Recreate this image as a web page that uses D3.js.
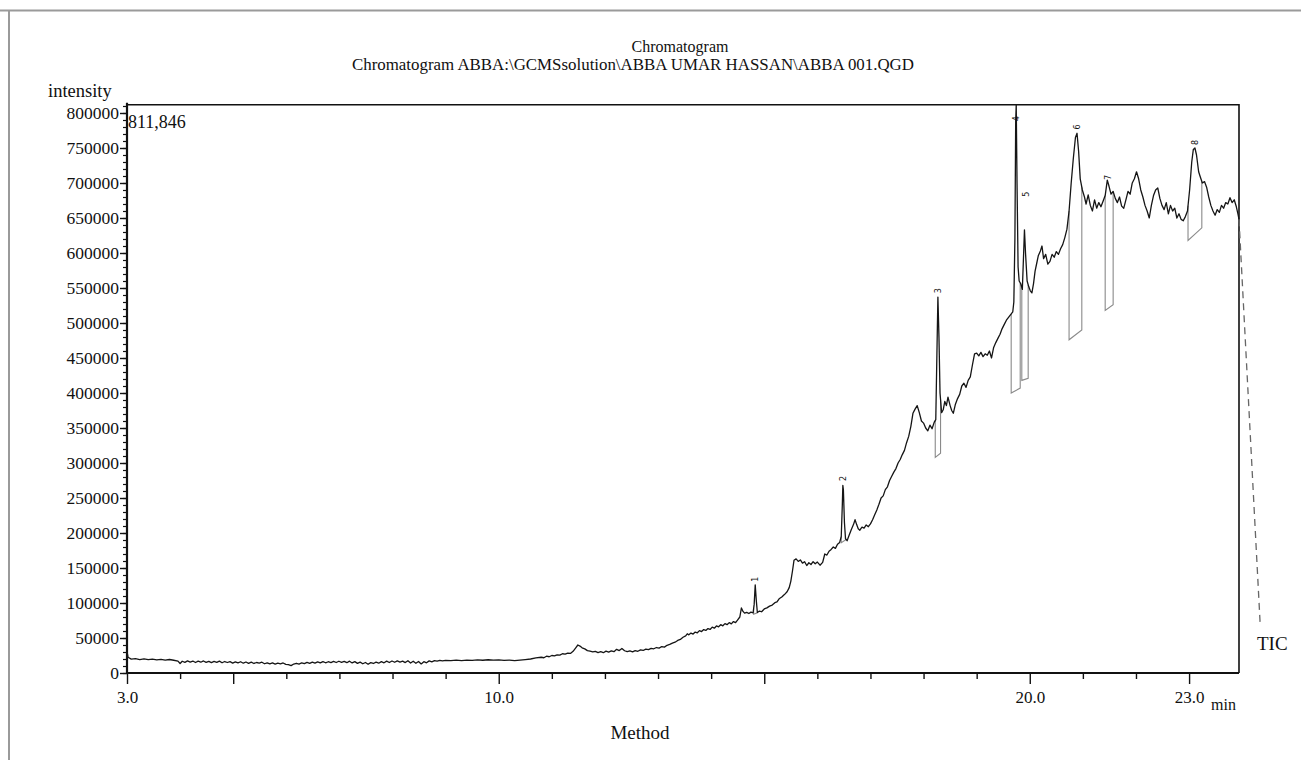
<!DOCTYPE html>
<html>
<head>
<meta charset="utf-8">
<script src="https://cdn.jsdelivr.net/npm/d3@7"></script>
<style>
  body { margin: 0; background: #fff; }
  svg { display: block; }
  text { font-family: "Liberation Serif", "Times New Roman", serif; fill: #111; }
</style>
</head>
<body>
<svg id="chart" width="1301" height="760"></svg>
<script>

/// ---- data (time in min, intensity in counts) ----
var tracePart1 = [
 [3.00,31000],[3.02,22500],[3.08,19800],[3.16,20400],[3.24,19200],[3.32,20100],[3.40,19000],[3.48,19700],
 [3.56,18800],[3.64,19600],[3.72,18400],[3.80,19300],[3.88,18200],[3.96,17000],[4.00,13500],[4.04,16800],
 [4.09,15200],[4.14,17300],[4.19,15600],[4.24,17100],[4.29,15000],[4.34,16900],[4.39,15400],[4.44,17200],
 [4.49,15100],[4.54,16700],[4.59,14800],[4.64,16500],[4.69,15200],[4.74,17000],[4.79,14600],[4.84,16400],
 [4.89,15000],[4.94,16200],[4.99,14200],[5.04,15900],[5.09,14400],[5.14,16100],[5.19,14000],[5.24,15700],
 [5.29,13800],[5.34,15500],[5.39,13600],[5.44,15000],[5.49,14100],[5.54,15400],[5.59,13200],[5.64,14600],
 [5.69,13000],[5.74,14400],[5.79,12600],[5.84,14000],[5.89,13100],[5.94,14300],[5.99,12400],[6.04,12000],
 [6.09,10500],[6.14,12800],[6.19,13900],[6.24,12700],[6.29,14600],[6.34,13300],[6.39,15200],[6.44,13800],
 [6.49,15600],[6.54,14100],[6.59,16000],[6.64,14400],[6.69,16300],[6.74,14600],[6.79,16100],[6.84,14900],
 [6.89,16600],[6.94,15000],[6.99,16800],[7.04,15200],[7.09,16500],[7.14,14700],[7.19,16900],[7.24,14400],
 [7.29,16200],[7.34,13800],[7.39,15600],[7.44,13200],[7.49,15000],[7.54,12500],[7.59,14800],[7.64,13600],
 [7.69,15500],[7.74,14000],[7.79,16200],[7.84,14600],[7.89,16900],[7.94,15000],[7.99,17200],[8.04,15300],
 [8.09,17400],[8.14,15600],[8.19,17000],[8.24,14900],[8.29,17600],[8.34,14200],[8.39,16800],[8.44,13900],
 [8.49,16500],[8.54,13000],[8.59,16200],[8.64,14600],[8.69,17300],[8.74,15800],[8.79,17600],[8.84,16900],
 [8.89,18000],[8.94,17200],[9.00,18100],[9.10,17600],[9.20,18300],[9.30,17800],[9.40,18500],[9.50,18000],
 [9.60,18700],[9.70,18200],[9.80,18900],[9.90,18400],[10.00,18700],[10.10,17900],[10.20,18400],[10.30,17600],
 [10.40,18500],[10.50,19200],[10.60,20000],[10.70,21500],[10.80,22500],[10.85,21800],[10.90,24000],[10.95,23200]
];

var tracePart2 = [
 [11.00,25000],[11.05,24400],[11.10,26000],[11.15,25500],[11.20,27500],[11.25,27000],[11.30,28500],[11.35,28000],
 [11.40,31000],[11.45,36000],[11.49,40000],[11.53,38500],[11.57,36000],[11.62,34500],[11.67,32000],[11.72,31200],
 [11.77,30200],[11.82,31000],[11.87,29200],[11.92,30400],[11.97,29000],[12.02,31200],[12.07,29800],[12.12,31600],
 [12.17,30400],[12.22,33800],[12.27,32000],[12.32,35000],[12.37,31800],[12.42,30500],[12.47,31500],[12.52,30200],
 [12.57,32000],[12.62,31000],[12.67,33000],[12.72,32200],[12.77,34200],[12.82,33400],[12.87,35200],[12.92,34600],
 [12.97,36400],[13.02,35600],[13.07,37800],[13.12,37000],[13.17,39600],[13.22,40800],[13.27,42600],[13.32,44000],
 [13.37,46500],[13.42,48000],[13.47,51000],[13.52,53000],[13.55,56000],[13.58,54500],[13.62,57000],[13.66,55600],
 [13.70,58500],[13.74,57400],[13.78,60500],[13.82,59200],[13.86,62000],[13.90,60800],[13.94,63500],[13.98,62200],
 [14.02,65500],[14.06,64000],[14.10,67200],[14.14,66000],[14.18,69000],[14.22,67400],[14.26,70500],[14.30,69000],
 [14.34,72000],[14.38,70200],[14.42,73500],[14.46,72000],[14.50,76000],[14.54,80000],[14.57,93000],[14.60,88000],
 [14.63,85500],[14.67,86500],[14.71,85000],[14.75,87000],[14.79,86000],[14.81,98000],[14.83,126000],[14.85,104000],
 [14.87,86500],[14.91,88500],[14.95,87500],[15.00,91500],[15.05,93000],[15.10,95500],[15.15,97000],[15.20,100500],
 [15.24,101500],[15.28,106000],[15.33,108500],[15.38,112000],[15.43,116000],[15.47,122000],[15.50,131000],[15.53,145000],
 [15.56,161000],[15.60,163000],[15.64,159500],[15.68,161500],[15.72,157000],[15.76,159000],[15.80,153500],[15.84,157500],
 [15.88,155000],[15.92,159000],[15.96,156000],[16.00,158500],[16.05,154000],[16.10,158000],[16.14,170000],[16.18,168500],
 [16.22,174000],[16.26,176500],[16.30,180000],[16.34,178000],[16.38,184000],[16.42,186500],[16.45,195000],[16.47,240000],
 [16.48,268000],[16.49,262000],[16.51,215000],[16.53,192000],[16.56,189000],[16.60,197000],[16.64,205000],[16.68,212000],
 [16.71,219000],[16.74,212000],[16.77,206000],[16.80,204000],[16.84,208500],[16.88,207000],[16.92,211500],[16.96,209000]
];

var tracePart3 = [
 [17.00,213000],[17.04,219000],[17.08,226000],[17.12,233000],[17.16,241000],[17.20,250000],[17.24,253000],[17.28,262000],
 [17.32,266000],[17.36,275000],[17.40,281000],[17.44,287000],[17.48,292000],[17.52,300000],[17.56,305000],[17.60,312000],
 [17.64,318000],[17.68,329000],[17.72,338000],[17.76,352000],[17.80,371000],[17.84,377000],[17.88,382000],[17.92,372000],
 [17.96,360000],[18.00,357000],[18.04,350000],[18.08,346000],[18.12,354000],[18.16,349000],[18.20,358000],[18.23,362000],
 [18.25,450000],[18.27,537000],[18.29,480000],[18.31,400000],[18.34,372000],[18.37,376000],[18.40,388000],[18.43,382000],
 [18.46,394000],[18.50,382000],[18.53,375000],[18.56,371000],[18.60,384000],[18.64,392000],[18.68,398000],[18.72,410000],
 [18.76,414000],[18.80,408000],[18.84,418000],[18.88,423000],[18.92,440000],[18.96,456000],[19.00,457000],[19.04,453000],
 [19.08,458000],[19.12,452000],[19.16,456000],[19.20,454000],[19.24,460000],[19.28,450000],[19.32,465000],[19.36,472000],
 [19.40,478000],[19.44,484000],[19.48,492000],[19.52,498000],[19.56,504000],[19.60,508000],[19.64,512000],[19.68,516000],
 [19.70,530000],[19.72,620000],[19.735,790000],[19.745,811846],[19.76,700000],[19.78,580000],[19.80,560000],[19.83,556000],
 [19.86,548000],[19.88,590000],[19.90,633000],[19.92,600000],[19.95,560000],[19.98,552000],[20.01,546000],[20.04,543000],
 [20.07,556000],[20.10,574000],[20.13,585000],[20.16,596000],[20.20,603000],[20.23,610000],[20.26,592000],[20.30,598000],
 [20.34,584000],[20.38,588000],[20.42,598000],[20.46,594000],[20.50,602000],[20.54,598000],[20.58,606000],[20.62,612000],
 [20.66,622000],[20.70,634000],[20.74,660000],[20.78,700000],[20.82,735000],[20.86,765000],[20.89,771000],[20.92,745000],
 [20.95,706000],[20.99,690000],[21.03,680000],[21.06,670000],[21.10,683000],[21.14,668000],[21.18,660000],[21.22,676000],
 [21.26,664000],[21.30,672000],[21.34,666000],[21.38,674000],[21.42,682000],[21.46,704000],[21.49,696000],[21.53,684000],
 [21.57,688000],[21.61,678000],[21.65,672000],[21.69,680000],[21.73,667000],[21.77,664000],[21.81,676000],[21.85,688000],
 [21.89,684000],[21.93,700000],[21.97,706000],[22.01,716000],[22.05,706000],[22.09,690000],[22.13,680000],[22.17,668000],
 [22.21,660000],[22.25,650000],[22.29,668000],[22.33,682000],[22.37,690000],[22.41,693000],[22.45,678000],[22.49,668000],
 [22.53,662000],[22.57,672000],[22.61,656000],[22.65,668000],[22.69,660000],[22.73,664000],[22.77,650000],[22.81,656000],
 [22.85,648000],[22.89,646000],[22.93,652000],[22.97,660000],[23.01,690000],[23.05,730000],[23.08,748000],[23.11,750000],
 [23.14,740000],[23.18,716000],[23.21,709000],[23.25,700000],[23.29,702000],[23.33,694000],[23.37,680000],[23.41,668000],
 [23.45,660000],[23.49,654000],[23.53,662000],[23.57,658000],[23.61,668000],[23.65,664000],[23.69,672000],[23.73,670000],
 [23.77,679000],[23.81,672000],[23.85,676000],[23.89,666000],[23.92,656000],[23.94,648000]
];

/// dashed run-off of the trace down to the TIC tag
var ticTail = [[23.94,648000],[24.34,68000]];

/// integrated peaks: id, apex, start/end time, baseline start/end
var peakIds    = [1, 2, 3, 4, 5, 6, 7, 8];
var peakApex   = [[14.83,134000],[16.48,278000],[18.27,546000],[19.745,792000],[19.93,684000],[20.89,780000],[21.47,708000],[23.11,758000]];
var peakStart  = [14.80, 16.45, 18.22, 19.65, 19.85, 20.74, 21.42, 22.98];
var peakEnd    = [14.87, 16.53, 18.32, 19.82, 19.97, 20.98, 21.57, 23.24];
var baseStart  = [84000, 186000, 308000, 400000, 418000, 476000, 518000, 618000];
var baseEnd    = [86000, 190000, 314000, 407000, 421000, 490000, 526000, 636000];

var yMax = 811846;
var yMajorTicks = d3.range(0, 800001, 50000);
var yMinorTicks = d3.range(0, 810001, 10000);
var xMinorTicks = [4, 6, 7, 8, 9, 11, 12, 13, 14, 16, 17, 18, 19, 21, 22];
var xMajorTicks = [3, 5, 10, 15, 20, 23];
var xLabelTicks = [3, 10, 20, 23];

var trace = tracePart1.concat(tracePart2, tracePart3);

/// ---- layout ----
var svg = d3.select("#chart");

var x = d3.scaleLinear().domain([3, 23.94]).range([127, 1239]);
var y = d3.scaleLinear().domain([0, yMax]).range([673, 104.7]);

/// page rule lines (clipped printout frame)
svg.append("line").attr("x1", 0).attr("x2", 1301).attr("y1", 10.5).attr("y2", 10.5)
    .attr("stroke", "#9a9a9a").attr("stroke-width", 2);
svg.append("line").attr("x1", 9).attr("x2", 9).attr("y1", 10).attr("y2", 760)
    .attr("stroke", "#9a9a9a").attr("stroke-width", 2);

/// titles
svg.append("text").attr("x", 680).attr("y", 52).attr("text-anchor", "middle")
    .style("font-size", "16px").text("Chromatogram");
svg.append("text").attr("x", 633).attr("y", 70).attr("text-anchor", "middle")
    .style("font-size", "16px")
    .attr("textLength", 562).attr("lengthAdjust", "spacingAndGlyphs")
    .text("Chromatogram ABBA:\\GCMSsolution\\ABBA UMAR HASSAN\\ABBA 001.QGD");

/// plot frame (top + right)
svg.append("path")
    .attr("d", "M" + x(3) + "," + y(yMax) + "H" + x(23.94) + "V" + y(0))
    .attr("fill", "none").attr("stroke", "#111").attr("stroke-width", 1.6);

/// axes
function styleAxis(g, width) {
    g.select(".domain").remove();
    g.selectAll("line").attr("stroke", "#111").attr("stroke-width", width);
}

svg.append("g").attr("transform", "translate(" + x(3) + ",0)")
    .call(d3.axisLeft(y).tickValues(yMinorTicks).tickSize(4).tickFormat(""))
    .call(styleAxis, 1.2);
svg.append("g").attr("transform", "translate(" + x(3) + ",0)")
    .call(d3.axisLeft(y).tickValues(yMajorTicks).tickSize(7).tickPadding(1).tickFormat(d3.format("d")))
    .call(styleAxis, 1.4)
    .selectAll("text").style("font-size", "17.5px").style("font-family", "Liberation Serif, serif").attr("fill", "#111");

svg.append("g").attr("transform", "translate(0," + y(0) + ")")
    .call(d3.axisBottom(x).tickValues(xMinorTicks).tickSize(6).tickFormat(""))
    .call(styleAxis, 1.4);
svg.append("g").attr("transform", "translate(0," + y(0) + ")")
    .call(d3.axisBottom(x).tickValues(xMajorTicks).tickSize(11).tickFormat(""))
    .call(styleAxis, 1.4);
svg.append("g").attr("transform", "translate(0," + y(0) + ")")
    .call(d3.axisBottom(x).tickValues(xLabelTicks).tickSize(0).tickPadding(18).tickFormat(d3.format(".1f")))
    .call(styleAxis, 0)
    .selectAll("text").style("font-size", "17px").style("font-family", "Liberation Serif, serif").attr("fill", "#111");

/// axis lines
svg.append("line").attr("x1", x(3)).attr("x2", x(3)).attr("y1", y(yMax) - 2).attr("y2", y(0) + 1)
    .attr("stroke", "#111").attr("stroke-width", 2.2);
svg.append("line").attr("x1", x(3) - 1).attr("x2", x(23.94)).attr("y1", y(0)).attr("y2", y(0))
    .attr("stroke", "#111").attr("stroke-width", 2.2);

/// axis captions
svg.append("text").attr("x", 48).attr("y", 97).style("font-size", "18.5px").text("intensity");
svg.append("text").attr("x", 128).attr("y", 128).style("font-size", "18px").text(d3.format(",")(yMax));
svg.append("text").attr("x", 1211).attr("y", 710).style("font-size", "16px").text("min");
svg.append("text").attr("x", 640).attr("y", 739).attr("text-anchor", "middle").style("font-size", "19px").text("Method");

/// integration baselines
function valueAt(t) {
    var i = d3.bisector(function(d){ return d[0]; }).left(trace, t);
    if (i <= 0) return trace[0][1];
    if (i >= trace.length) return trace[trace.length - 1][1];
    var a = trace[i - 1], b = trace[i];
    return a[1] + (b[1] - a[1]) * (t - a[0]) / (b[0] - a[0]);
}

svg.append("g").selectAll("path")
    .data(peakIds)
    .enter().append("path")
    .attr("d", function(d, i) {
        return d3.line()([
            [x(peakStart[i]), y(valueAt(peakStart[i]))],
            [x(peakStart[i]), y(baseStart[i])],
            [x(peakEnd[i]), y(baseEnd[i])],
            [x(peakEnd[i]), y(valueAt(peakEnd[i]))]
        ]);
    })
    .attr("fill", "none").attr("stroke", "#8a8a8a").attr("stroke-width", 1.1);

/// the TIC trace
var line = d3.line()
    .x(function(d){ return x(d[0]); })
    .y(function(d){ return y(d[1]); });

svg.append("path").datum(trace)
    .attr("d", line)
    .attr("fill", "none").attr("stroke", "#151515").attr("stroke-width", 1.3)
    .attr("stroke-linejoin", "round");

svg.append("path").datum(ticTail)
    .attr("d", line)
    .attr("fill", "none").attr("stroke", "#666").attr("stroke-width", 1.3)
    .attr("stroke-dasharray", "7,5");

svg.append("text").attr("x", 1257).attr("y", 650).style("font-size", "19px").text("TIC");

/// peak numbers (printed sideways)
svg.append("g").selectAll("text")
    .data(peakIds)
    .enter().append("text")
    .attr("transform", function(d, i) {
        return "translate(" + x(peakApex[i][0]) + "," + y(peakApex[i][1]) + ") rotate(-90)";
    })
    .attr("text-anchor", "middle").attr("dy", "0.35em")
    .style("font-size", "8px").style("font-family", "DejaVu Sans, sans-serif")
    .attr("fill", "#2a3f6a")
    .text(function(d){ return d; });

</script>
</body>
</html>
